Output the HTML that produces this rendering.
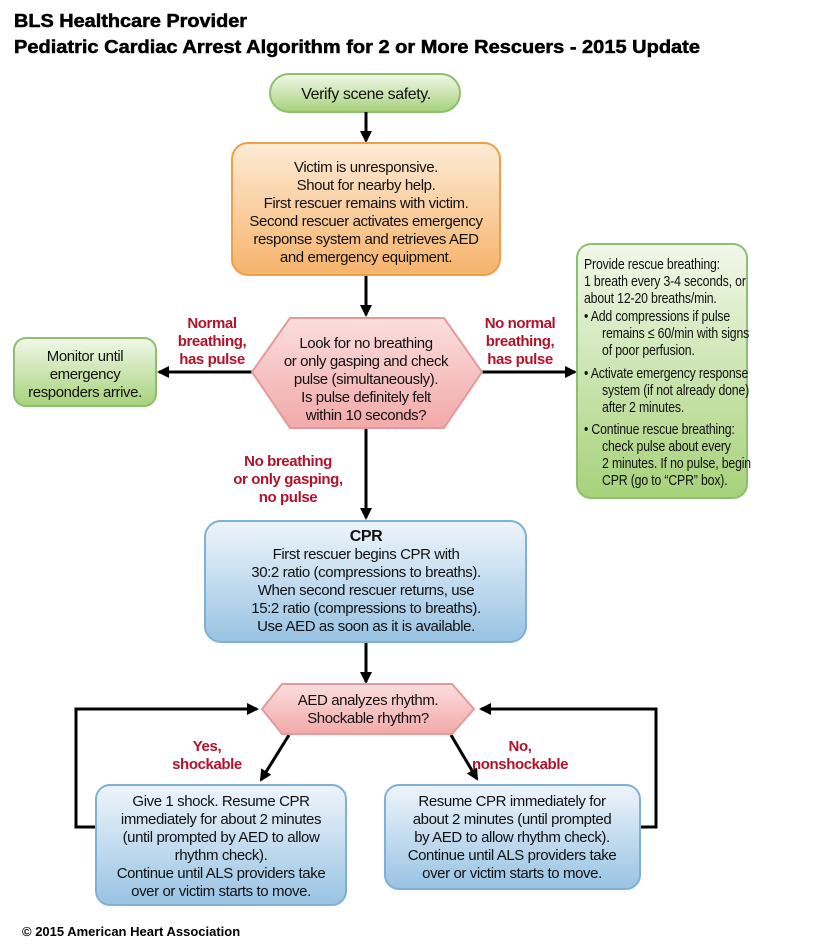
<!DOCTYPE html>
<html><head><meta charset="utf-8"><style>
html,body{margin:0;padding:0;background:#fff;}
svg{display:block;}
text{font-family:"Liberation Sans",Arial,sans-serif;}
.t{font-size:15px;fill:#111;text-anchor:middle;letter-spacing:-0.4px;}
.l{font-size:15px;fill:#111;letter-spacing:-0.2px;}
.r{font-size:15px;fill:#b3122a;font-weight:bold;text-anchor:middle;letter-spacing:-0.4px;}
</style></head><body>
<svg width="820" height="952" viewBox="0 0 820 952" xmlns="http://www.w3.org/2000/svg">
<defs>
<linearGradient id="g" x1="0" y1="0" x2="0" y2="1"><stop offset="0" stop-color="#f2f8ea"/><stop offset="1" stop-color="#a6d27a"/></linearGradient>
<linearGradient id="o" x1="0" y1="0" x2="0" y2="1"><stop offset="0" stop-color="#fdebd6"/><stop offset="1" stop-color="#f6b36b"/></linearGradient>
<linearGradient id="b" x1="0" y1="0" x2="0" y2="1"><stop offset="0" stop-color="#eef5fb"/><stop offset="1" stop-color="#98c3e3"/></linearGradient>
<linearGradient id="p" x1="0" y1="0" x2="0" y2="1"><stop offset="0" stop-color="#fbdede"/><stop offset="1" stop-color="#f2a9a9"/></linearGradient>
<marker id="a" markerWidth="12" markerHeight="12" refX="10" refY="6" orient="auto" markerUnits="userSpaceOnUse"><path d="M0,0 L12,6 L0,12 Z" fill="#000"/></marker>
</defs>
<text x="14" y="27" textLength="233" lengthAdjust="spacingAndGlyphs" style="font-size:18px;font-weight:bold;fill:#000;stroke:#000;stroke-width:0.5">BLS Healthcare Provider</text>
<text x="14" y="53" textLength="686" lengthAdjust="spacingAndGlyphs" style="font-size:18px;font-weight:bold;fill:#000;stroke:#000;stroke-width:0.5">Pediatric Cardiac Arrest Algorithm for 2 or More Rescuers - 2015 Update</text>

<rect x="270" y="74" width="190" height="38" rx="19" fill="url(#g)" stroke="#8cc070" stroke-width="2"/>
<text class="t" x="366" y="99" style="font-size:16px">Verify scene safety.</text>

<g stroke="#000" stroke-width="3" fill="none">
<line x1="366" y1="112" x2="366" y2="141" marker-end="url(#a)"/>
<line x1="366" y1="276" x2="366" y2="315" marker-end="url(#a)"/>
<line x1="252" y1="372" x2="159" y2="372" marker-end="url(#a)"/>
<line x1="482" y1="372" x2="575" y2="372" marker-end="url(#a)"/>
<line x1="366" y1="429" x2="366" y2="518" marker-end="url(#a)"/>
<line x1="366" y1="643" x2="366" y2="682" marker-end="url(#a)"/>
<polyline points="96,827 76,827 76,709 257,709" marker-end="url(#a)"/>
<polyline points="640,827 656,827 656,709 481,709" marker-end="url(#a)"/>
<line x1="289" y1="735" x2="261" y2="780" marker-end="url(#a)"/>
<line x1="451" y1="735" x2="477" y2="779" marker-end="url(#a)"/>
</g>

<rect x="232" y="143" width="268" height="132" rx="16" fill="url(#o)" stroke="#ef9f45" stroke-width="2"/>
<text class="t" x="366" y="172">Victim is unresponsive.</text>
<text class="t" x="366" y="190">Shout for nearby help.</text>
<text class="t" x="366" y="208">First rescuer remains with victim.</text>
<text class="t" x="366" y="226">Second rescuer activates emergency</text>
<text class="t" x="366" y="244">response system and retrieves AED</text>
<text class="t" x="366" y="262">and emergency equipment.</text>

<polygon points="252,372 290,318 444,318 482,372 444,428 290,428" fill="url(#p)" stroke="#e39a9a" stroke-width="2"/>
<text class="t" x="366" y="348">Look for no breathing</text>
<text class="t" x="366" y="366">or only gasping and check</text>
<text class="t" x="366" y="384">pulse (simultaneously).</text>
<text class="t" x="366" y="402">Is pulse definitely felt</text>
<text class="t" x="366" y="420">within 10 seconds?</text>

<rect x="14" y="338" width="142" height="68" rx="12" fill="url(#g)" stroke="#8cc070" stroke-width="2"/>
<text class="t" x="85" y="361">Monitor until</text>
<text class="t" x="85" y="379">emergency</text>
<text class="t" x="85" y="397">responders arrive.</text>

<text class="r" x="212" y="328">Normal</text>
<text class="r" x="212" y="346">breathing,</text>
<text class="r" x="212" y="364">has pulse</text>
<text class="r" x="520" y="328">No normal</text>
<text class="r" x="520" y="346">breathing,</text>
<text class="r" x="520" y="364">has pulse</text>
<text class="r" x="288" y="466">No breathing</text>
<text class="r" x="288" y="484">or only gasping,</text>
<text class="r" x="288" y="502">no pulse</text>

<rect x="577" y="244" width="170" height="254" rx="14" fill="url(#g)" stroke="#8cc070" stroke-width="2"/>
<g class="l" transform="translate(584,0) scale(0.82,1)">
<text x="0" y="269">Provide rescue breathing:</text>
<text x="0" y="286">1 breath every 3-4 seconds, or</text>
<text x="0" y="303">about 12-20 breaths/min.</text>
<text x="0" y="321">• Add compressions if pulse</text>
<text x="22" y="338">remains ≤ 60/min with signs</text>
<text x="22" y="355">of poor perfusion.</text>
<text x="0" y="378">• Activate emergency response</text>
<text x="22" y="395">system (if not already done)</text>
<text x="22" y="412">after 2 minutes.</text>
<text x="0" y="434">• Continue rescue breathing:</text>
<text x="22" y="451">check pulse about every</text>
<text x="22" y="468">2 minutes. If no pulse, begin</text>
<text x="22" y="485">CPR (go to “CPR” box).</text>
</g>

<rect x="205" y="521" width="321" height="121" rx="16" fill="url(#b)" stroke="#7fb0d6" stroke-width="2"/>
<text class="t" x="366" y="541" style="font-weight:bold;font-size:16px">CPR</text>
<text class="t" x="366" y="559">First rescuer begins CPR with</text>
<text class="t" x="366" y="577">30:2 ratio (compressions to breaths).</text>
<text class="t" x="366" y="595">When second rescuer returns, use</text>
<text class="t" x="366" y="613">15:2 ratio (compressions to breaths).</text>
<text class="t" x="366" y="631">Use AED as soon as it is available.</text>

<polygon points="262,709 282,684 452,684 474,709 452,734 282,734" fill="url(#p)" stroke="#e39a9a" stroke-width="2"/>
<text class="t" x="368" y="705">AED analyzes rhythm.</text>
<text class="t" x="368" y="723">Shockable rhythm?</text>

<text class="r" x="207" y="751">Yes,</text>
<text class="r" x="207" y="769">shockable</text>
<text class="r" x="520" y="751">No,</text>
<text class="r" x="520" y="769">nonshockable</text>

<rect x="96" y="785" width="250" height="120" rx="14" fill="url(#b)" stroke="#7fb0d6" stroke-width="2"/>
<text class="t" x="221" y="806">Give 1 shock.  Resume CPR</text>
<text class="t" x="221" y="824">immediately for about 2 minutes</text>
<text class="t" x="221" y="842">(until prompted by AED to allow</text>
<text class="t" x="221" y="860">rhythm check).</text>
<text class="t" x="221" y="878">Continue until ALS providers take</text>
<text class="t" x="221" y="896">over or victim starts to move.</text>

<rect x="385" y="785" width="255" height="104" rx="14" fill="url(#b)" stroke="#7fb0d6" stroke-width="2"/>
<text class="t" x="512" y="806">Resume CPR immediately for</text>
<text class="t" x="512" y="824">about 2 minutes (until prompted</text>
<text class="t" x="512" y="842">by AED to allow rhythm check).</text>
<text class="t" x="512" y="860">Continue until ALS providers take</text>
<text class="t" x="512" y="878">over or victim starts to move.</text>

<text x="22" y="936" style="font-size:13px;font-weight:bold;fill:#000">© 2015 American Heart Association</text>
</svg>
</body></html>
